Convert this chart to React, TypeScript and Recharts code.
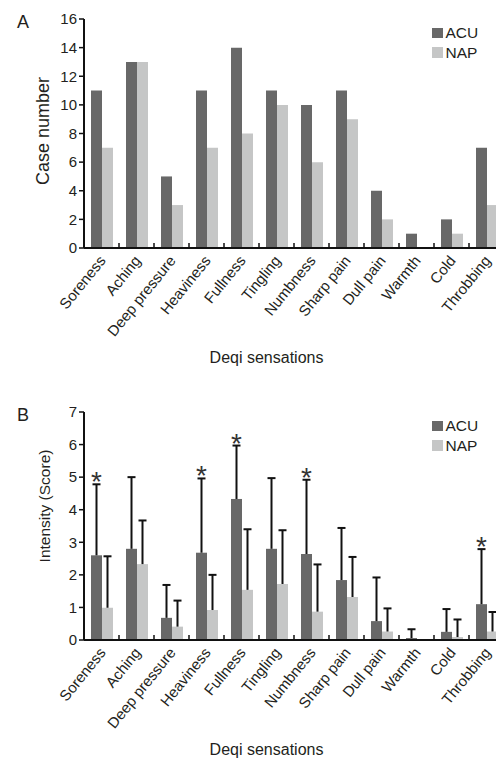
import React from 'react';
import { BarChart, Bar, XAxis, YAxis, Legend } from 'recharts';

const categories = ['Soreness', 'Aching', 'Deep pressure', 'Heaviness', 'Fullness', 'Tingling', 'Numbness', 'Sharp pain', 'Dull pain', 'Warmth', 'Cold', 'Throbbing'];
const caseAcu = [11, 13, 5, 11, 14, 11, 10, 11, 4, 1, 2, 7];
const caseNap = [7, 13, 3, 7, 8, 10, 6, 9, 2, 0, 1, 3];
const scoreAcu = [2.6, 2.8, 0.68, 2.68, 4.33, 2.8, 2.64, 1.84, 0.58, 0.06, 0.25, 1.1];
const sdAcu = [2.18, 2.2, 1.01, 2.28, 1.64, 2.17, 2.28, 1.6, 1.34, 0.27, 0.7, 1.69];
const scoreNap = [0.99, 2.33, 0.41, 0.92, 1.54, 1.72, 0.87, 1.32, 0.26, 0, 0.09, 0.26];
const sdNap = [1.58, 1.34, 0.8, 1.08, 1.86, 1.65, 1.45, 1.23, 0.71, 0, 0.54, 0.6];
const significant = [true, false, false, true, true, false, true, false, false, false, false, true];
const ticksA = [0, 2, 4, 6, 8, 10, 12, 14, 16];
const ticksB = [0, 1, 2, 3, 4, 5, 6, 7];

const dataA = categories.map((c, i) => ({ name: c, ACU: caseAcu[i], NAP: caseNap[i] }));
const dataB = categories.map((c, i) => ({
  name: c,
  ACU: scoreAcu[i],
  NAP: scoreNap[i],
  acuSd: sdAcu[i],
  napSd: sdNap[i],
  sig: significant[i],
}));

const FONT = '"Liberation Sans", Arial, Helvetica, sans-serif';
const TXT = '#231f20';
const AXIS = '#111';
const ACU_COLOR = '#686868';
const NAP_COLOR = '#c5c6c6';
const B_MAX = 7;

const CatTick = (props: any) => {
  const { x, y, payload } = props;
  const half = payload && typeof payload.offset === 'number' && payload.offset > 0 ? payload.offset : 17.5;
  const ax = x + 5;
  const ay = y + 13;
  return (
    <g>
      <line x1={x + half} x2={x + half} y1={y} y2={y - 5} stroke={AXIS} strokeWidth={1.5} />
      <text
        x={ax}
        y={ay}
        transform={`rotate(-51 ${ax} ${ay})`}
        textAnchor="end"
        fontSize={15}
        fontFamily={FONT}
        fill={TXT}
      >
        {payload.value}
      </text>
    </g>
  );
};

const LegendBox = (props: any) => {
  const items = (props.payload || []) as any[];
  return (
    <div style={{ fontFamily: FONT, fontSize: 15.5, color: TXT, lineHeight: '19.5px' }}>
      {items.map((e: any) => (
        <div key={e.value} style={{ display: 'flex', alignItems: 'center' }}>
          <span style={{ display: 'inline-block', width: 10.5, height: 10.5, background: e.color, marginRight: 3 }} />
          <span>{e.value}</span>
        </div>
      ))}
    </div>
  );
};

const makeErrShape = (valueKey: string, sdKey: string, withSig: boolean) => (props: any) => {
  const { x, y, width, height, fill, background, payload } = props;
  const val = payload ? payload[valueKey] : 0;
  const sd = payload ? payload[sdKey] : 0;
  let ppu = 0;
  if (background && background.height) ppu = background.height / B_MAX;
  else if (val > 0) ppu = height / val;
  const cx = x + width / 2;
  const top = y - sd * ppu;
  return (
    <g>
      <rect x={x} y={y} width={width} height={Math.max(0, height)} fill={fill} />
      {sd > 0 && (
        <g stroke={AXIS} strokeWidth={2}>
          <line x1={cx} x2={cx} y1={y} y2={top} />
          <line x1={cx - 4} x2={cx + 4} y1={top} y2={top} />
        </g>
      )}
      {withSig && payload && payload.sig && (
        <text x={cx} y={top + 7} textAnchor="middle" fontSize={28} fontFamily={FONT} fill="#333">
          *
        </text>
      )}
    </g>
  );
};

const acuShape = makeErrShape('ACU', 'acuSd', true);
const napShape = makeErrShape('NAP', 'napSd', false);

const yLabelA = () => (
  <g fontFamily={FONT} fill={TXT}>
    <text x={17} y={28} fontSize={18}>A</text>
    <text x={43} y={131} transform="rotate(-90 43 131)" textAnchor="middle" dominantBaseline="central" fontSize={18}>
      Case number
    </text>
  </g>
);

const yLabelB = () => (
  <g fontFamily={FONT} fill={TXT}>
    <text x={17} y={49} fontSize={18}>B</text>
    <text x={44} y={134} transform="rotate(-90 44 134)" textAnchor="middle" dominantBaseline="central" fontSize={15.5}>
      Intensity (Score)
    </text>
  </g>
);

const xLabelA = () => (
  <text x={266.5} y={363} textAnchor="middle" fontSize={16} fontFamily={FONT} fill={TXT}>
    Deqi sensations
  </text>
);

const xLabelB = () => (
  <text x={266.5} y={383} textAnchor="middle" fontSize={16} fontFamily={FONT} fill={TXT}>
    Deqi sensations
  </text>
);

export default function App() {
  return (
    <div style={{ fontFamily: FONT }}>
      <div style={{ position: 'absolute', left: 0, top: 0 }}>
        <BarChart
          width={520}
          height={372}
          data={dataA}
          margin={{ top: 19, right: 16, left: 0, bottom: 0 }}
          barCategoryGap="20%"
          barGap={0}
        >
          <XAxis
            dataKey="name"
            height={124}
            interval={0}
            tickLine={false}
            tickSize={0}
            tickMargin={0}
            axisLine={{ stroke: AXIS, strokeWidth: 2 }}
            tick={<CatTick />}
            label={xLabelA}
          />
          <YAxis
            width={84}
            domain={[0, 16]}
            ticks={ticksA}
            interval={0}
            tickSize={5}
            tickMargin={2}
            axisLine={{ stroke: AXIS, strokeWidth: 2 }}
            tickLine={{ stroke: AXIS, strokeWidth: 1.5 }}
            tick={{ fontSize: 15, fill: TXT, fontFamily: FONT }}
            label={yLabelA}
          />
          <Legend
            layout="horizontal"
            verticalAlign="middle"
            align="center"
            content={<LegendBox />}
            wrapperStyle={{ position: 'absolute', left: 432, top: 23, width: 'auto' }}
          />
          <Bar dataKey="ACU" fill={ACU_COLOR} isAnimationActive={false} />
          <Bar dataKey="NAP" fill={NAP_COLOR} isAnimationActive={false} />
        </BarChart>
      </div>
      <div style={{ position: 'absolute', left: 0, top: 372 }}>
        <BarChart
          width={520}
          height={386}
          data={dataB}
          margin={{ top: 40, right: 16, left: 0, bottom: 0 }}
          barCategoryGap="20%"
          barGap={0}
        >
          <XAxis
            dataKey="name"
            height={118}
            interval={0}
            tickLine={false}
            tickSize={0}
            tickMargin={0}
            axisLine={{ stroke: AXIS, strokeWidth: 2 }}
            tick={<CatTick />}
            label={xLabelB}
          />
          <YAxis
            width={84}
            domain={[0, 7]}
            ticks={ticksB}
            interval={0}
            tickSize={5}
            tickMargin={2}
            axisLine={{ stroke: AXIS, strokeWidth: 2 }}
            tickLine={{ stroke: AXIS, strokeWidth: 1.5 }}
            tick={{ fontSize: 15, fill: TXT, fontFamily: FONT }}
            label={yLabelB}
          />
          <Legend
            layout="horizontal"
            verticalAlign="middle"
            align="center"
            content={<LegendBox />}
            wrapperStyle={{ position: 'absolute', left: 432, top: 44, width: 'auto' }}
          />
          <Bar dataKey="ACU" fill={ACU_COLOR} isAnimationActive={false} shape={acuShape} />
          <Bar dataKey="NAP" fill={NAP_COLOR} isAnimationActive={false} shape={napShape} />
        </BarChart>
      </div>
    </div>
  );
}
